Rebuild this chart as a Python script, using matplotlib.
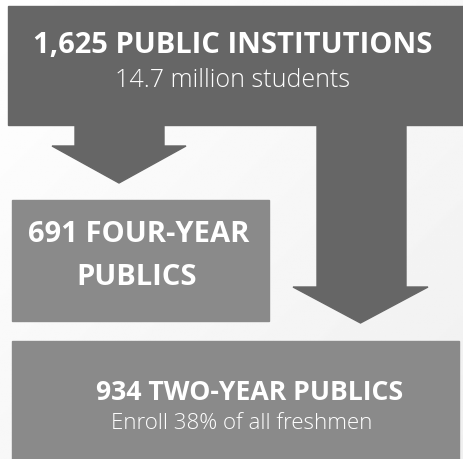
import matplotlib.pyplot as plt
import numpy as np
from matplotlib.patches import Rectangle, Polygon

# values shown on the graphic
counts = [1625, 691, 934]
titles = ["PUBLIC INSTITUTIONS", "FOUR-YEAR\nPUBLICS", "TWO-YEAR PUBLICS"]
subtitles = ["14.7 million students", "", "Enroll 38% of all freshmen"]

W, H = 463, 459
DARK = "#666666"
MID = "#8a8a8a"

fig = plt.figure(figsize=(W / 100, H / 100), dpi=100)
ax = fig.add_axes([0, 0, 1, 1])
ax.set_xlim(0, W)
ax.set_ylim(H, 0)
ax.axis("off")

# soft background gradient
gx = np.linspace(0, 1, 200)
gy = np.linspace(0, 1, 200)
gxx, gyy = np.meshgrid(gx, gy)
bg = 1.0 - 0.06 * (0.5 * gxx + 0.5 * gyy)
ax.imshow(bg, cmap="gray", vmin=0, vmax=1, extent=[0, W, H, 0], zorder=0)

# boxes
ax.add_patch(Rectangle((8, 6), W - 8, 119, color=DARK, zorder=2))
ax.add_patch(Rectangle((12, 200), 257, 121, color=MID, zorder=2))
ax.add_patch(Rectangle((12, 341), 447, 130, color=MID, zorder=2))


def arrow(x0, x1, y0, y1, hx0, hx1, tip_y):
    pts = [(x0, y0), (x1, y0), (x1, y1), (hx1, y1),
           ((hx0 + hx1) / 2, tip_y), (hx0, y1), (x0, y1)]
    ax.add_patch(Polygon(pts, closed=True, color=DARK, zorder=3))


arrow(75, 164, 124, 146, 52, 186, 183)
arrow(317, 406, 124, 287, 293, 428, 323)

bold = dict(color="white", fontweight="bold", family="Open Sans",
            ha="center", va="baseline", zorder=5)
light = dict(color="white", fontweight="light", family="Open Sans",
             ha="center", va="baseline", zorder=5)

ax.text(233, 53, f"{counts[0]:,} {titles[0]}", fontsize=21, **bold)
ax.text(233, 87, subtitles[0], fontsize=18, **light)

lines = titles[1].split("\n")
ax.text(139, 242, f"{counts[1]} {lines[0]}", fontsize=21, **bold)
ax.text(137, 285, lines[1], fontsize=21, **bold)

ax.text(250, 400, f"{counts[2]} {titles[2]}", fontsize=19.2, **bold)
ax.text(242, 429, subtitles[2], fontsize=16, **light)

fig.savefig("out.png", dpi=100)
